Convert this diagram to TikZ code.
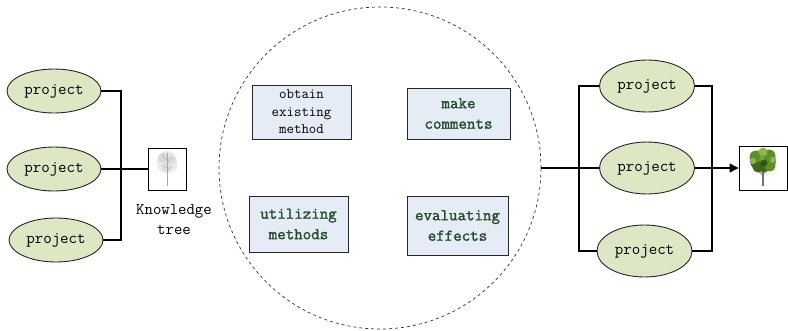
\documentclass[tikz,border=0pt]{standalone}
\usepackage{fontspec}
\setmonofont{Latin Modern Mono}
\newfontfamily\heavytt[FakeBold=1.6]{Latin Modern Mono}
\usetikzlibrary{shapes.geometric,arrows.meta}
\definecolor{projfill}{HTML}{DDE7C3}
\definecolor{taskfill}{HTML}{E6ECF6}
\definecolor{taskgreen}{HTML}{234D2C}
\definecolor{leafdark}{HTML}{3E6A17}
\definecolor{leafmid}{HTML}{5F8F26}
\definecolor{leaflight}{HTML}{8DB64A}
\definecolor{trunk}{HTML}{7B7463}
\tikzset{
  proj/.style={ellipse,draw=black!85,line width=0.9pt,fill=projfill,inner sep=0pt,
    font=\ttfamily\fontsize{16.5}{18}\selectfont},
  task/.style={rectangle,draw=black!85,line width=0.9pt,fill=taskfill,inner sep=0pt,
    align=center,font=\heavytt\fontsize{16.5}{20.5}\selectfont,text=taskgreen},
  taskplain/.style={task,font=\ttfamily\fontsize{14.5}{17.6}\selectfont,text=black},
  link/.style={line width=1.3pt,black},
  picbox/.style={rectangle,draw=black,line width=0.9pt,fill=white,inner sep=0pt}
}
\begin{document}
\begin{tikzpicture}[x=1pt,y=-1pt]
\useasboundingbox (0,0) rectangle (788,330);

% left group of projects
\node[proj,minimum width=94,minimum height=44] (l1) at (54,91) {project};
\node[proj,minimum width=94,minimum height=44] (l2) at (54,169) {project};
\node[proj,minimum width=94,minimum height=44] (l3) at (56,240) {project};
\node[picbox,minimum width=38,minimum height=42] (kt) at (167,169) {};
\coordinate (lj) at (121,169);
\draw[link] (l1.east) -| (lj) |- (l3.east);
\draw[link] (l2.east) -- (kt.west);
\node[font=\ttfamily\fontsize{16.3}{20}\selectfont,align=center] (ktlabel) at (174,220) {Knowledge\\tree};

% faded knowledge tree
\begin{scope}
  \fill[gray!18] (167,162) ellipse (10 and 11);
  \fill[gray!30] (163,158) circle (5);
  \fill[gray!27] (171,160) circle (5);
  \fill[gray!24] (166,167) circle (5.5);
  \fill[gray!15] (160,166) circle (3.5);
  \fill[gray!15] (174,167) circle (3.5);
  \draw[gray!70,line width=0.9pt] (167,153) -- (167,186);
  \draw[gray!60,line width=0.5pt] (167,160) -- (162,155) (167,163) -- (172,157) (167,168) -- (161,165) (167,170) -- (173,166);
\end{scope}

% central cycle
\node[circle,draw=black!80,dashed,line width=0.7pt,minimum size=322,inner sep=0pt] (cyc) at (380,168) {};
\node[taskplain,minimum width=99,minimum height=54] (t1) at (301.5,112) {obtain\\existing\\method};
\node[task,minimum width=103,minimum height=51] (t2) at (458.5,113.5) {make\\comments};
\node[task,minimum width=99,minimum height=56] (t3) at (298.5,224) {utilizing\\methods};
\node[task,minimum width=101,minimum height=59] (t4) at (457.5,225.5) {evaluating\\effects};

% right group of projects
\node[proj,minimum width=95,minimum height=52] (r1) at (647,86) {project};
\node[proj,minimum width=95,minimum height=52] (r2) at (647,168) {project};
\node[proj,minimum width=95,minimum height=52] (r3) at (644.5,251) {project};
\node[picbox,minimum width=48,minimum height=44] (gt) at (763,168) {};
\coordinate (rs) at (579,168);
\coordinate (re) at (712,168);
\draw[link] (cyc.east) -- (r2.west);
\draw[link] (r1.west) -| (rs) |- (r3.west);
\draw[link] (r1.east) -| (re) |- (r3.east);
\draw[link,-{Triangle[length=9pt,width=9pt]}] (r2.east) -- (gt.west);

% green tree
\begin{scope}
  \draw[trunk,line width=1.8pt] (763,168) -- (763,186);
  \draw[trunk,line width=0.8pt] (763,175) -- (757,170) (763,174) -- (769,169);
  \fill[leafdark] (763,161) ellipse (13 and 11);
  \fill[leafmid] (756,157) circle (6.5);
  \fill[leafmid] (769,156) circle (6.5);
  \fill[leafdark] (758,167) circle (5.5);
  \fill[leafmid] (770,166) circle (5.5);
  \fill[leaflight] (763,152) circle (4.5);
  \fill[leaflight] (753,161) circle (3.2);
  \fill[leaflight] (773,160) circle (3);
  \fill[leafdark!80!black] (764,163) circle (3.5);
  \fill[leafmid!85!white] (762,158) circle (2.5);
\end{scope}
\end{tikzpicture}
\end{document}
